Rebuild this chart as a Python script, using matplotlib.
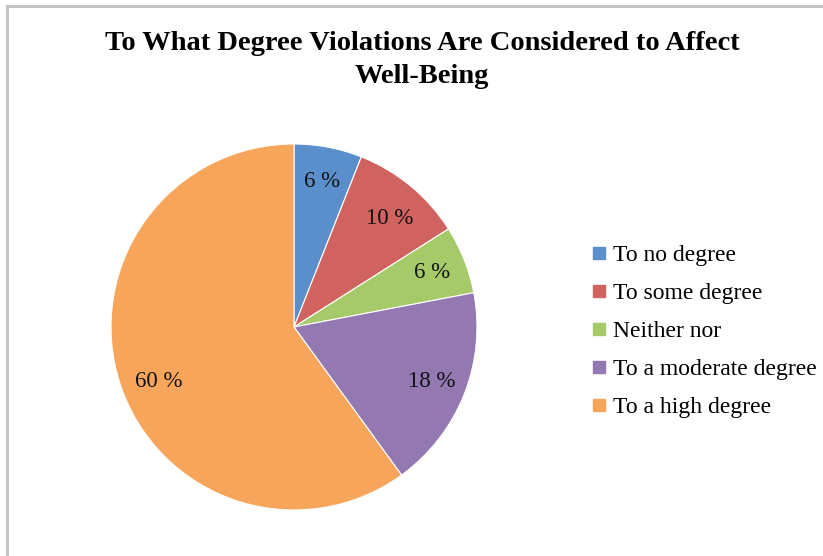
import matplotlib
matplotlib.use("Agg")
import matplotlib.pyplot as plt
from matplotlib.lines import Line2D
import numpy as np

categories = ["To no degree", "To some degree", "Neither nor",
              "To a moderate degree", "To a high degree"]
values = [6, 10, 6, 18, 60]
colors = ["#5b8fcb", "#d0625f", "#a6c96a", "#9378b1", "#f8a55c"]
title = "To What Degree Violations Are Considered to Affect\nWell-Being"

plt.rcParams['font.family'] = ['Liberation Serif', 'DejaVu Serif']

W, H = 823, 556
fig = plt.figure(figsize=(W / 100, H / 100), dpi=100)
fig.patch.set_facecolor("white")

# frame lines (top and left)
fig.add_artist(Line2D([7 / W, 1], [1 - 6 / H, 1 - 6 / H], color="#c4c4c4", lw=2.2,
                      transform=fig.transFigure))
fig.add_artist(Line2D([7 / W, 7 / W], [0, 1 - 6 / H], color="#c4c4c4", lw=2.2,
                      transform=fig.transFigure))

cx, cy, r = 294, 327, 183
ax = fig.add_axes([(cx - r) / W, (H - cy - r) / H, 2 * r / W, 2 * r / H])
wedges, texts, autotexts = ax.pie(values, colors=colors, startangle=90, counterclock=False,
                                  autopct=lambda p: f"{p:.0f} %", pctdistance=0.81,
                                  wedgeprops=dict(linewidth=0.8, edgecolor="white"),
                                  textprops=dict(fontsize=16.5, color="#111111"))
ax.set_xlim(-1, 1)
ax.set_ylim(-1, 1)
# Excel-like best-fit placement of the large slice label
ang = np.deg2rad(202)
autotexts[-1].set_position((0.8 * np.cos(ang), 0.8 * np.sin(ang)))
ang = np.deg2rad(48.7)
autotexts[1].set_position((0.79 * np.cos(ang), 0.79 * np.sin(ang)))

fig.text(422 / W, 1 - 60 / H, title, ha="center", va="center", fontsize=20.5,
         fontweight="bold", linespacing=1.43)

handles = [Line2D([], [], marker="s", linestyle="none", markersize=8,
                  markerfacecolor=c, markeredgecolor=c) for c in colors]
leg = fig.legend(handles, categories, loc="upper left",
                 bbox_to_anchor=(582 / W, 1 - 235 / H), frameon=False,
                 fontsize=17, handlelength=0.6, handletextpad=0.3,
                 labelspacing=0.7, borderaxespad=0)

fig.savefig("out.png", dpi=100)
